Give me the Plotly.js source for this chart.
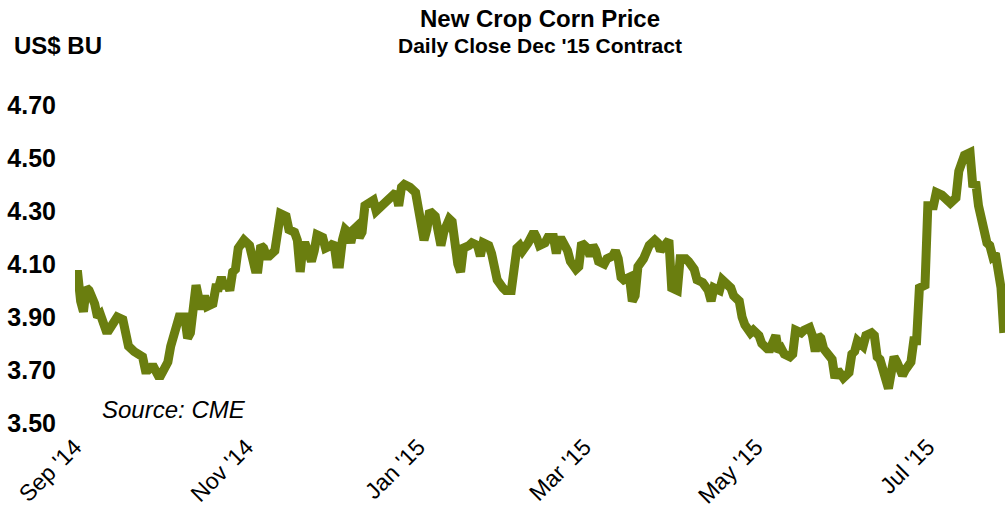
<!DOCTYPE html>
<html>
<head>
<meta charset="utf-8">
<script src="https://cdn.plot.ly/plotly-3.0.1.min.js"></script>
<style>html,body{margin:0;padding:0;background:#fff;}#chart{width:1008px;height:510px;}</style>
</head>
<body>
<div id="chart"></div>
<script>
const dates = [
"2014-09-01","2014-09-02","2014-09-03","2014-09-04","2014-09-05","2014-09-06","2014-09-08","2014-09-09","2014-09-10","2014-09-12",
"2014-09-13","2014-09-15","2014-09-16","2014-09-18","2014-09-19","2014-09-20","2014-09-22","2014-09-23","2014-09-25","2014-09-26",
"2014-09-27","2014-09-28","2014-09-29","2014-10-01","2014-10-02","2014-10-04","2014-10-05","2014-10-07","2014-10-08","2014-10-10",
"2014-10-11","2014-10-12","2014-10-13","2014-10-14","2014-10-15","2014-10-16","2014-10-17","2014-10-18","2014-10-20","2014-10-21",
"2014-10-22","2014-10-23","2014-10-24","2014-10-25","2014-10-26","2014-10-27","2014-10-28","2014-10-29","2014-10-31","2014-11-01",
"2014-11-02","2014-11-04","2014-11-05","2014-11-06","2014-11-07","2014-11-08","2014-11-09","2014-11-11","2014-11-12","2014-11-13",
"2014-11-15","2014-11-16","2014-11-18","2014-11-19","2014-11-20","2014-11-21","2014-11-22","2014-11-23","2014-11-24","2014-11-25",
"2014-11-26","2014-11-28","2014-11-29","2014-12-01","2014-12-02","2014-12-03","2014-12-04","2014-12-05","2014-12-06","2014-12-07",
"2014-12-08","2014-12-09","2014-12-10","2014-12-11","2014-12-12","2014-12-13","2014-12-15","2014-12-16","2014-12-17","2014-12-19",
"2014-12-20","2014-12-22","2014-12-23","2014-12-24","2014-12-25","2014-12-26","2014-12-27","2014-12-29","2014-12-31","2015-01-01",
"2015-01-02","2015-01-03","2015-01-04","2015-01-05","2015-01-07","2015-01-08","2015-01-09","2015-01-10","2015-01-12","2015-01-13",
"2015-01-14","2015-01-15","2015-01-16","2015-01-17","2015-01-19","2015-01-20","2015-01-22","2015-01-23","2015-01-24","2015-01-26",
"2015-01-27","2015-01-28","2015-01-29","2015-01-31","2015-02-01","2015-02-03","2015-02-04","2015-02-05","2015-02-06","2015-02-07",
"2015-02-09","2015-02-10","2015-02-11","2015-02-12","2015-02-13","2015-02-15","2015-02-16","2015-02-17","2015-02-18","2015-02-19",
"2015-02-20","2015-02-21","2015-02-23","2015-02-24","2015-02-26","2015-02-27","2015-02-28","2015-03-02","2015-03-03","2015-03-04",
"2015-03-05","2015-03-06","2015-03-08","2015-03-09","2015-03-11","2015-03-12","2015-03-13","2015-03-14","2015-03-15","2015-03-17",
"2015-03-18","2015-03-19","2015-03-20","2015-03-22","2015-03-23","2015-03-24","2015-03-26","2015-03-27","2015-03-28","2015-03-30",
"2015-03-31","2015-04-01","2015-04-03","2015-04-04","2015-04-06","2015-04-07","2015-04-09","2015-04-10","2015-04-12","2015-04-14",
"2015-04-15","2015-04-16","2015-04-18","2015-04-19","2015-04-20","2015-04-22","2015-04-23","2015-04-25","2015-04-26","2015-04-27",
"2015-04-29","2015-04-30","2015-05-02","2015-05-03","2015-05-05","2015-05-06","2015-05-08","2015-05-09","2015-05-10","2015-05-11",
"2015-05-13","2015-05-14","2015-05-15","2015-05-17","2015-05-18","2015-05-20","2015-05-21","2015-05-22","2015-05-23","2015-05-24",
"2015-05-25","2015-05-27","2015-05-28","2015-05-29","2015-05-30","2015-06-01","2015-06-02","2015-06-03","2015-06-04","2015-06-05",
"2015-06-06","2015-06-08","2015-06-09","2015-06-10","2015-06-11","2015-06-12","2015-06-13","2015-06-14","2015-06-15","2015-06-17",
"2015-06-18","2015-06-19","2015-06-20","2015-06-22","2015-06-23","2015-06-25","2015-06-26","2015-06-27","2015-06-28","2015-06-29",
"2015-06-30","2015-07-01","2015-07-03","2015-07-04","2015-07-06","2015-07-09","2015-07-11","2015-07-12","2015-07-14","2015-07-16",
"2015-07-17","2015-07-18","2015-07-19","2015-07-22","2015-07-23","2015-07-24","2015-07-25","2015-07-27","2015-07-28"
];
const prices = [
4.06,4.06,3.96,3.92,4.01,4.00,3.95,3.90,3.91,3.85,
3.85,3.88,3.90,3.89,3.83,3.79,3.77,3.76,3.75,3.70,
3.70,3.71,3.71,3.67,3.69,3.73,3.79,3.86,3.90,3.90,
3.82,3.84,3.93,4.02,3.97,3.93,3.98,3.94,3.95,4.01,
4.01,4.05,4.01,4.03,4.00,4.07,4.08,4.16,4.19,4.18,
4.17,4.08,4.08,4.17,4.16,4.13,4.13,4.15,4.22,4.29,
4.28,4.23,4.22,4.19,4.07,4.17,4.17,4.14,4.11,4.15,
4.21,4.20,4.16,4.17,4.18,4.10,4.10,4.19,4.23,4.22,
4.18,4.23,4.24,4.20,4.22,4.32,4.33,4.34,4.30,4.32,
4.34,4.35,4.36,4.37,4.32,4.39,4.40,4.39,4.37,4.31,
4.25,4.19,4.23,4.30,4.28,4.22,4.17,4.22,4.27,4.26,
4.17,4.10,4.07,4.16,4.17,4.18,4.17,4.13,4.18,4.17,
4.14,4.10,4.04,4.01,4.00,4.00,4.08,4.16,4.17,4.15,
4.18,4.20,4.22,4.20,4.17,4.18,4.20,4.20,4.20,4.14,
4.19,4.19,4.15,4.11,4.08,4.09,4.18,4.16,4.13,4.17,
4.15,4.11,4.10,4.12,4.13,4.15,4.12,4.05,4.04,4.05,
3.96,3.98,4.09,4.12,4.15,4.17,4.19,4.18,4.15,4.17,
4.19,4.01,4.00,4.12,4.12,4.11,4.08,4.04,4.03,4.00,
3.96,4.01,4.00,4.04,4.03,4.01,3.98,3.96,3.90,3.87,
3.84,3.85,3.83,3.80,3.78,3.78,3.83,3.77,3.78,3.76,
3.75,3.76,3.85,3.84,3.85,3.86,3.83,3.77,3.83,3.82,
3.78,3.76,3.74,3.67,3.70,3.67,3.68,3.69,3.76,3.77,
3.81,3.79,3.83,3.84,3.84,3.83,3.75,3.74,3.69,3.63,
3.69,3.75,3.73,3.68,3.70,3.73,3.81,3.81,4.01,4.02,
4.02,4.32,4.32,4.37,4.36,4.33,4.35,4.45,4.51,4.52,
4.39,4.41,4.32,4.18,4.17,4.13,4.14,4.01,3.84
];
const tickDates = ["2014-09-01","2014-11-01","2015-01-01","2015-03-01","2015-05-01","2015-07-01"];
const tickLabels = ["Sep '14","Nov '14","Jan '15","Mar '15","May '15","Jul '15"];
const yTicks = [3.5,3.7,3.9,4.1,4.3,4.5,4.7];

const FONT = "Liberation Sans, Arial, sans-serif";
const trace = {
  x: dates, y: prices, type: "scatter", mode: "lines",
  line: {color: "#6a7e0f", width: 9, shape: "linear"},
  hoverinfo: "skip"
};
const layout = {
  width: 1008, height: 510,
  margin: {l: 75, r: 3, t: 105, b: 87},
  paper_bgcolor: "#ffffff", plot_bgcolor: "#ffffff",
  showlegend: false,
  font: {family: FONT, color: "#000"},
  title: {text: "<b>New Crop Corn Price</b>", font: {family: FONT, size: 24, color: "#000"},
          xref: "paper", x: 0.5, xanchor: "center", yref: "container", y: 1 - 19/510, yanchor: "middle"},
  xaxis: {
    type: "date", range: ["2014-09-01", "2015-07-28 10:00"],
    tickmode: "array", tickvals: tickDates, ticktext: tickLabels,
    tickangle: -45, tickfont: {family: FONT, size: 23, color: "#000"},
    showgrid: false, zeroline: false, showline: false, ticks: "",
    ticklabelstandoff: 5
  },
  yaxis: {
    range: [3.5, 4.7], tickmode: "array", tickvals: yTicks,
    tickformat: ".2f", tickfont: {family: FONT, size: 25, color: "#000", weight: "bold"},
    showgrid: false, zeroline: false, showline: false, ticks: "",
    ticklabelstandoff: 18
  },
  annotations: [
    {text: "<b>Daily Close Dec '15 Contract</b>", xref: "paper", yref: "paper", x: 0.5, y: (423-46)/318,
     xanchor: "center", yanchor: "middle", showarrow: false, font: {family: FONT, size: 21, color: "#000"}},
    {text: "<b>US$ BU</b>", xref: "paper", yref: "paper", x: (12-75)/930, y: (423-45)/318,
     xanchor: "left", yanchor: "middle", showarrow: false, font: {family: FONT, size: 24, color: "#000"}},
    {text: "<i>Source: CME</i>", xref: "paper", yref: "paper", x: (100-75)/930, y: (423-409)/318,
     xanchor: "left", yanchor: "middle", showarrow: false, font: {family: FONT, size: 24, color: "#000"}}
  ]
};
Plotly.newPlot("chart", [trace], layout, {staticPlot: true, displayModeBar: false});
</script>
</body>
</html>
